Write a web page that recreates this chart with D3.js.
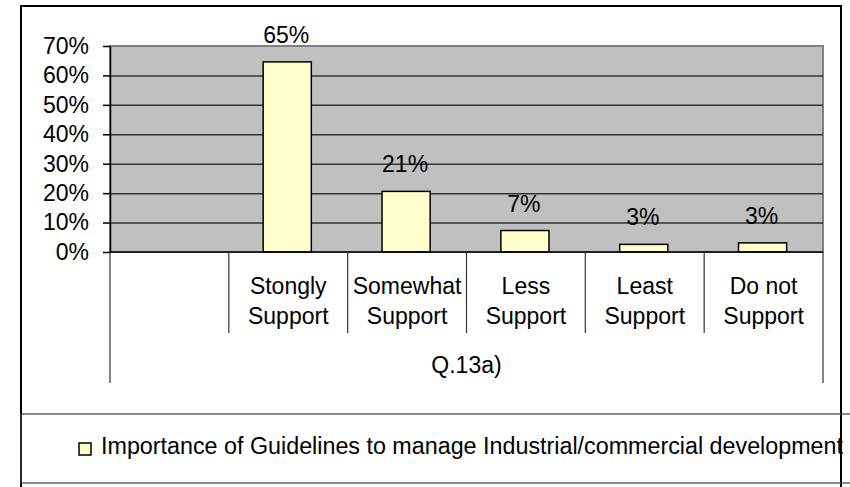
<!DOCTYPE html>
<html>
<head>
<meta charset="utf-8">
<script src="https://cdn.jsdelivr.net/npm/d3@7"></script>
<style>
  body { margin: 0; background: #fff; }
  svg text { font-family: "Liberation Sans", Arial, sans-serif; font-size: 23px; fill: #000; }
</style>
</head>
<body>
<svg width="850" height="487"></svg>
<script>
// first category is the empty slot at the left of the plot
const categories = ["", "Stongly\nSupport", "Somewhat\nSupport", "Less\nSupport", "Least\nSupport", "Do not\nSupport"];
const values = [64.6, 20.6, 7.3, 2.6, 3.1];
const yTicks = [0, 10, 20, 30, 40, 50, 60, 70];
const groupLabel = "Q.13a)";
const seriesName = "Importance of Guidelines to manage Industrial/commercial development";

const svg = d3.select("svg");
const x = d3.scaleBand().domain(categories).range([110, 823]);
const y = d3.scaleLinear().domain([0, 70]).range([252, 46]);
const pct = d3.format(".0%");
const barData = categories.slice(1).map((c, i) => ({ cat: c, value: values[i] }));

// outer frame
svg.append("rect")
  .attr("x", 21).attr("y", 6)
  .attr("width", 820).attr("height", 520)
  .attr("fill", "none").attr("stroke", "#000").attr("stroke-width", 2);

// legend box
svg.append("rect")
  .attr("x", 21).attr("y", 414)
  .attr("width", 850).attr("height", 69)
  .attr("fill", "none").attr("stroke", "#404040").attr("stroke-width", 1.2);

// plot background
svg.append("rect")
  .attr("x", 110).attr("y", 46)
  .attr("width", 713).attr("height", 206)
  .attr("fill", "#c0c0c0").attr("stroke", "#808080").attr("stroke-width", 2);

// gridlines
svg.append("g")
  .attr("transform", "translate(110,0)")
  .call(d3.axisLeft(y).tickValues(yTicks.slice(1, -1)).tickSize(-713).tickFormat(""))
  .call(g => {
    g.select(".domain").remove();
    g.selectAll(".tick line").attr("stroke", "#333").attr("stroke-width", 1.5);
  });

// y axis
svg.append("g")
  .attr("transform", "translate(110,0)")
  .call(d3.axisLeft(y).tickValues(yTicks).tickSize(7).tickSizeOuter(0).tickPadding(14)
    .tickFormat(d => pct(d / 100)))
  .call(g => {
    g.attr("font-size", null).attr("font-family", null);
    g.select(".domain").attr("stroke", "#000").attr("stroke-width", 1.5);
    g.selectAll(".tick line").attr("stroke", "#000").attr("stroke-width", 1.5);
  });

// bars
const bw = x.bandwidth() * 0.405;
svg.append("g")
  .selectAll("rect")
  .data(barData)
  .enter()
  .append("rect")
  .attr("x", d => x(d.cat) + (x.bandwidth() - bw) / 2 - 1)
  .attr("y", d => y(d.value))
  .attr("width", bw)
  .attr("height", d => y(0) - y(d.value))
  .attr("fill", "#ffffcc")
  .attr("stroke", "#000")
  .attr("stroke-width", 1.5);

// value labels
svg.append("g")
  .selectAll("text")
  .data(barData)
  .enter()
  .append("text")
  .attr("text-anchor", "middle")
  .attr("x", d => x(d.cat) + x.bandwidth() / 2 - 2)
  .attr("y", d => y(d.value) - 19)
  .text(d => pct(d.value / 100));

// zero line
svg.append("line")
  .attr("x1", 110).attr("x2", 823)
  .attr("y1", y(0)).attr("y2", y(0))
  .attr("stroke", "#000").attr("stroke-width", 1.5);

// category dividers
svg.append("g")
  .selectAll("line")
  .data(categories.slice(1))
  .enter()
  .append("line")
  .attr("x1", d => x(d)).attr("x2", d => x(d))
  .attr("y1", y(0)).attr("y2", 333)
  .attr("stroke", "#333").attr("stroke-width", 1.2);

// group dividers
svg.append("g")
  .selectAll("line")
  .data(x.range())
  .enter()
  .append("line")
  .attr("x1", d => d).attr("x2", d => d)
  .attr("y1", y(0)).attr("y2", 383)
  .attr("stroke", "#333").attr("stroke-width", 1.2);

// category labels
svg.append("g")
  .selectAll("text")
  .data(categories.slice(1))
  .enter()
  .append("text")
  .attr("text-anchor", "middle")
  .attr("x", d => x(d) + x.bandwidth() / 2)
  .attr("y", 294)
  .each(function(d) {
    d.split("\n").forEach((line, i) => {
      d3.select(this).append("tspan")
        .attr("x", x(d) + x.bandwidth() / 2)
        .attr("y", 294 + i * 30)
        .text(line);
    });
  });

// group label
svg.append("text")
  .attr("text-anchor", "middle")
  .attr("x", (x.range()[0] + x.range()[1]) / 2)
  .attr("y", 373)
  .text(groupLabel);

// legend
svg.append("rect")
  .attr("x", 79).attr("y", 443)
  .attr("width", 12).attr("height", 12)
  .attr("fill", "#ffffcc").attr("stroke", "#000").attr("stroke-width", 1.5);
svg.append("text")
  .attr("x", 101).attr("y", 454)
  .style("font-size", "23.3px")
  .text(seriesName);
</script>
</body>
</html>
